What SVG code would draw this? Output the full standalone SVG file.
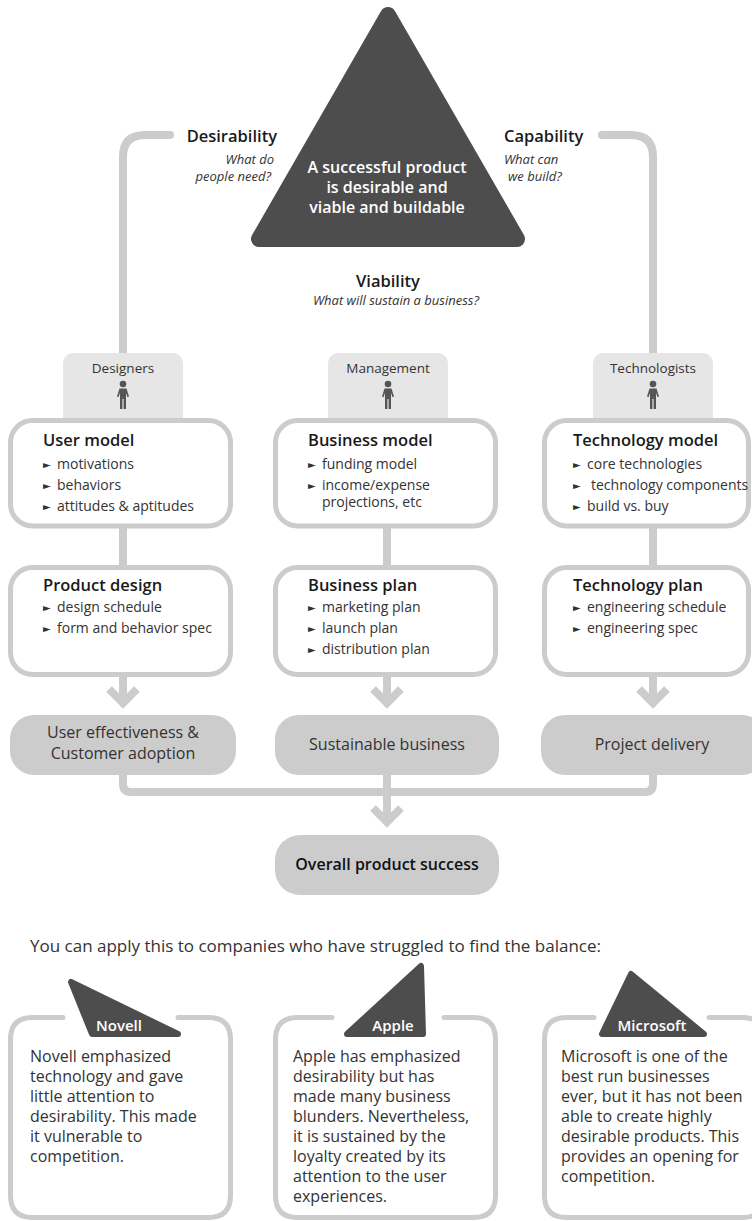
<svg xmlns="http://www.w3.org/2000/svg" width="752" height="1221" viewBox="0 0 752 1221">
<style>
text{font-family:"Open Sans",Lato,"Liberation Sans",sans-serif;fill:#333}
.t{font-weight:600;font-size:16.5px;fill:#1a1a1a}
.b{font-size:14px}
.bu{font-size:10px;font-family:"DejaVu Sans",sans-serif;fill:#333}
.q{font-style:italic;font-size:13px}
.h{font-size:13.5px;text-anchor:middle}
.o{font-size:16px;text-anchor:middle}
.w{font-weight:600;fill:#fff;text-anchor:middle}
.c{font-size:16px}
.con{fill:none;stroke:#cccccc;stroke-width:8}
.box{fill:#fff;stroke:#cccccc;stroke-width:5}
.hdr{fill:#e6e6e6}
.out{fill:#cccccc}
.card{fill:none;stroke:#cccccc;stroke-width:5;stroke-linecap:round}
.dk{fill:#4d4d4d;stroke:#4d4d4d;stroke-linejoin:round}
</style>
<defs>
<g id="person" fill="#555">
<circle cx="0" cy="0" r="3.3"/>
<path d="M-3.5,4.5 H3.5 L6,12.5 L4.5,13.2 L3,9 V25 H0.6 V15 H-0.6 V25 H-3 V9 L-4.5,13.2 L-6,12.5 Z"/>
</g>
</defs>

<g id="connectors">
<path class="con" stroke-linecap="round" d="M170,135 H145 Q123,135 123,157 V356"/>
<path class="con" stroke-linecap="round" d="M602,135 H631 Q653,135 653,157 V356"/>
<line class="con" x1="123" y1="527" x2="123" y2="566"/>
<line class="con" x1="387" y1="527" x2="387" y2="566"/>
<line class="con" x1="653" y1="527" x2="653" y2="566"/>
<line class="con" x1="123" y1="676" x2="123" y2="703"/>
<polyline class="con" points="109,689 123,703 137,689"/>
<line class="con" x1="387" y1="676" x2="387" y2="703"/>
<polyline class="con" points="373,689 387,703 401,689"/>
<line class="con" x1="653" y1="676" x2="653" y2="703"/>
<polyline class="con" points="639,689 653,703 667,689"/>
<path class="con" d="M123,774 V784 Q123,792 131,792 H645 Q653,792 653,784 V774"/>
<line class="con" x1="387" y1="774" x2="387" y2="822"/>
<polyline class="con" points="373,808 387,822 401,808"/>
</g>

<g id="apex">
<polygon class="dk" stroke-width="16" points="388,15 259,239 517,239"/>
<text class="w" font-size="16" x="387" y="173">A successful product</text>
<text class="w" font-size="16" x="387" y="193">is desirable and</text>
<text class="w" font-size="16" x="387" y="213">viable and buildable</text>
</g>

<g id="desirability">
<text class="t" x="277" y="142" text-anchor="end" font-size="15.5">Desirability</text>
<text class="q" x="274" y="164" text-anchor="end">What do</text>
<text class="q" x="271" y="181" text-anchor="end">people need?</text>
</g>
<g id="capability">
<text class="t" x="504" y="142" font-size="15.5">Capability</text>
<text class="q" x="504" y="164">What can</text>
<text class="q" x="508" y="181">we build?</text>
</g>
<g id="viability">
<text class="t" x="388" y="287" text-anchor="middle" font-size="15.5">Viability</text>
<text class="q" x="396" y="305" text-anchor="middle">What will sustain a business?</text>
</g>

<g id="designers">
<rect class="hdr" x="63" y="353" width="120" height="80" rx="10"/>
<text class="h" x="123" y="373">Designers</text>
<use href="#person" x="123" y="384"/>
</g>
<g id="management">
<rect class="hdr" x="328" y="353" width="120" height="80" rx="10"/>
<text class="h" x="388" y="373">Management</text>
<use href="#person" x="388" y="384"/>
</g>
<g id="technologists">
<rect class="hdr" x="593" y="353" width="120" height="80" rx="10"/>
<text class="h" x="653" y="373">Technologists</text>
<use href="#person" x="653" y="384"/>
</g>

<g id="user-model">
<rect class="box" x="10.5" y="420.5" width="220" height="105.5" rx="22"/>
<text class="t" x="43" y="446">User model</text>
<text class="b" x="43" y="469"><tspan class="bu" y="468">►</tspan><tspan x="57" y="469">motivations</tspan></text>
<text class="b" x="43" y="490"><tspan class="bu" y="489">►</tspan><tspan x="57" y="490">behaviors</tspan></text>
<text class="b" x="43" y="511"><tspan class="bu" y="510">►</tspan><tspan x="57" y="511">attitudes &amp; aptitudes</tspan></text>
</g>
<g id="business-model">
<rect class="box" x="275.5" y="420.5" width="220" height="105.5" rx="22"/>
<text class="t" x="308" y="446">Business model</text>
<text class="b" x="308" y="469"><tspan class="bu" y="468">►</tspan><tspan x="322" y="469">funding model</tspan></text>
<text class="b" x="308" y="490"><tspan class="bu" y="489">►</tspan><tspan x="322" y="490">income/expense</tspan></text>
<text class="b" x="322" y="507">projections, etc</text>
</g>
<g id="technology-model">
<rect class="box" x="544.5" y="420.5" width="204" height="105.5" rx="22"/>
<text class="t" x="573" y="446">Technology model</text>
<text class="b" x="573" y="469"><tspan class="bu" y="468">►</tspan><tspan x="587" y="469">core technologies</tspan></text>
<text class="b" x="573" y="490"><tspan class="bu" y="489">►</tspan><tspan x="591" y="490">technology components</tspan></text>
<text class="b" x="573" y="511"><tspan class="bu" y="510">►</tspan><tspan x="587" y="511">build vs. buy</tspan></text>
</g>

<g id="product-design">
<rect class="box" x="10.5" y="567.5" width="220" height="107" rx="22"/>
<text class="t" x="43" y="591">Product design</text>
<text class="b" x="43" y="612"><tspan class="bu" y="611">►</tspan><tspan x="57" y="612">design schedule</tspan></text>
<text class="b" x="43" y="633"><tspan class="bu" y="632">►</tspan><tspan x="57" y="633">form and behavior spec</tspan></text>
</g>
<g id="business-plan">
<rect class="box" x="275.5" y="567.5" width="220" height="107" rx="22"/>
<text class="t" x="308" y="591">Business plan</text>
<text class="b" x="308" y="612"><tspan class="bu" y="611">►</tspan><tspan x="322" y="612">marketing plan</tspan></text>
<text class="b" x="308" y="633"><tspan class="bu" y="632">►</tspan><tspan x="322" y="633">launch plan</tspan></text>
<text class="b" x="308" y="654"><tspan class="bu" y="653">►</tspan><tspan x="322" y="654">distribution plan</tspan></text>
</g>
<g id="technology-plan">
<rect class="box" x="544.5" y="567.5" width="204" height="107" rx="22"/>
<text class="t" x="573" y="591">Technology plan</text>
<text class="b" x="573" y="612"><tspan class="bu" y="611">►</tspan><tspan x="587" y="612">engineering schedule</tspan></text>
<text class="b" x="573" y="633"><tspan class="bu" y="632">►</tspan><tspan x="587" y="633">engineering spec</tspan></text>
</g>

<g id="user-effectiveness">
<rect class="out" x="10" y="715" width="226" height="60" rx="24"/>
<text class="o" x="123" y="738">User effectiveness &amp;</text>
<text class="o" x="123" y="759">Customer adoption</text>
</g>
<g id="sustainable-business">
<rect class="out" x="275" y="715" width="224" height="60" rx="24"/>
<text class="o" x="387" y="750">Sustainable business</text>
</g>
<g id="project-delivery">
<rect class="out" x="541" y="715" width="225" height="60" rx="24"/>
<text class="o" x="652" y="750">Project delivery</text>
</g>
<g id="overall">
<rect class="out" x="275" y="835" width="224" height="60" rx="25"/>
<text class="o" x="387" y="870" font-weight="600" font-size="16.5" style="fill:#111">Overall product success</text>
</g>

<text x="30" y="952" font-size="17">You can apply this to companies who have struggled to find the balance:</text>

<g id="novell">
<path class="card" d="M63,1017.5 H32.5 Q10.5,1017.5 10.5,1039.5 V1195.5 Q10.5,1217.5 32.5,1217.5 H208.5 Q230.5,1217.5 230.5,1195.5 V1039.5 Q230.5,1017.5 208.5,1017.5 H178"/>
<polygon class="dk" stroke-width="6" points="71,982 92,1034 178,1034"/>
<text class="w" font-size="15" x="119" y="1031">Novell</text>
<text class="c" x="30" y="1062">Novell emphasized</text>
<text class="c" x="30" y="1082">technology and gave</text>
<text class="c" x="30" y="1102">little attention to</text>
<text class="c" x="30" y="1122">desirability. This made</text>
<text class="c" x="30" y="1142">it vulnerable to</text>
<text class="c" x="30" y="1162">competition.</text>
</g>
<g id="apple">
<path class="card" d="M332,1017.5 H297.5 Q275.5,1017.5 275.5,1039.5 V1195.5 Q275.5,1217.5 297.5,1217.5 H473.5 Q495.5,1217.5 495.5,1195.5 V1039.5 Q495.5,1017.5 473.5,1017.5 H444"/>
<polygon class="dk" stroke-width="6" points="421,966 423,1034 347,1034"/>
<text class="w" font-size="15" x="393" y="1031">Apple</text>
<text class="c" x="293" y="1062">Apple has emphasized</text>
<text class="c" x="293" y="1082">desirability but has</text>
<text class="c" x="293" y="1102">made many business</text>
<text class="c" x="293" y="1122">blunders. Nevertheless,</text>
<text class="c" x="293" y="1142">it is sustained by the</text>
<text class="c" x="293" y="1162">loyalty created by its</text>
<text class="c" x="293" y="1182">attention to the user</text>
<text class="c" x="293" y="1202">experiences.</text>
</g>
<g id="microsoft">
<path class="card" d="M594,1017.5 H566.5 Q544.5,1017.5 544.5,1039.5 V1195.5 Q544.5,1217.5 566.5,1217.5 H742.5 Q764.5,1217.5 764.5,1195.5 V1039.5 Q764.5,1017.5 742.5,1017.5 H709"/>
<polygon class="dk" stroke-width="6" points="631,974 602,1034 704,1034"/>
<text class="w" font-size="15" x="652" y="1031">Microsoft</text>
<text class="c" x="561" y="1062">Microsoft is one of the</text>
<text class="c" x="561" y="1082">best run businesses</text>
<text class="c" x="561" y="1102">ever, but it has not been</text>
<text class="c" x="561" y="1122">able to create highly</text>
<text class="c" x="561" y="1142">desirable products. This</text>
<text class="c" x="561" y="1162">provides an opening for</text>
<text class="c" x="561" y="1182">competition.</text>
</g>
</svg>
